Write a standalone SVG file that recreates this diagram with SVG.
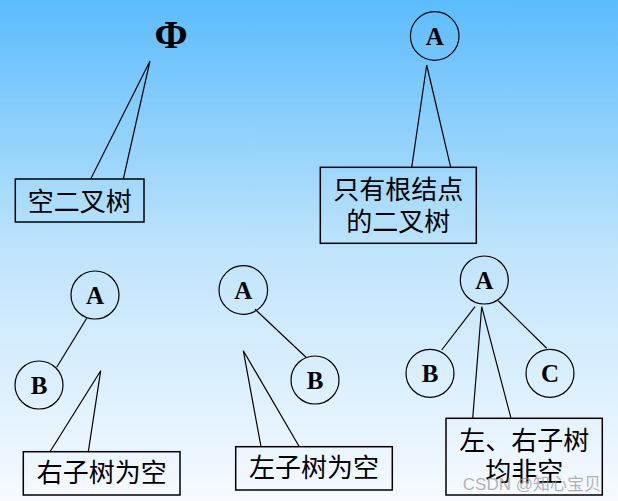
<svg xmlns="http://www.w3.org/2000/svg" width="618" height="501" viewBox="0 0 618 501">
<defs>
<linearGradient id="bg" x1="0" y1="0" x2="0" y2="1">
<stop offset="0" stop-color="#5BBCFC"/>
<stop offset="0.5" stop-color="#BFE4FC"/>
<stop offset="1" stop-color="#F6FAFF"/>
</linearGradient>
<style>
.nd{fill:none;stroke:#000;stroke-width:1.2}
.lt{font-family:"Liberation Serif",serif;font-weight:bold;font-size:25px;text-anchor:middle;fill:#000}
.cl{fill:none;stroke:#000;stroke-width:1.2;stroke-linejoin:miter}
.box{fill:none;stroke:#000;stroke-width:1.5}
.cj{font-family:"Noto Sans CJK SC","Noto Sans CJK JP",sans-serif;font-size:26px;text-anchor:middle;fill:#000}
.ed{stroke:#000;stroke-width:1.2}
</style>
</defs>
<rect width="618" height="501" fill="url(#bg)"/>

<g id="phi">
<text x="171" y="48" font-family="Liberation Serif,serif" font-weight="bold" font-size="40" text-anchor="middle">Φ</text>
</g>

<g id="connectors">
<line class="ed" x1="86.7" y1="318.3" x2="56.7" y2="367.3"/>
<line class="ed" x1="255" y1="309.3" x2="306" y2="357.3"/>
<line class="ed" x1="475" y1="306.7" x2="441.7" y2="350"/>
<line class="ed" x1="498.3" y1="300.7" x2="546.7" y2="348.3"/>
</g>

<g id="node-A1"><circle class="nd" cx="434.7" cy="36" r="24.3"/><text class="lt" x="434.7" y="45">A</text></g>
<g id="node-A2"><circle class="nd" cx="95" cy="295" r="24"/><text class="lt" x="95" y="304">A</text></g>
<g id="node-B2"><circle class="nd" cx="39" cy="385" r="24"/><text class="lt" x="39" y="394">B</text></g>
<g id="node-A3"><circle class="nd" cx="243.3" cy="290" r="24.3"/><text class="lt" x="243.3" y="299">A</text></g>
<g id="node-B3"><circle class="nd" cx="315" cy="380" r="24"/><text class="lt" x="315" y="389">B</text></g>
<g id="node-A4"><circle class="nd" cx="484.3" cy="280" r="24"/><text class="lt" x="484.3" y="289">A</text></g>
<g id="node-B4"><circle class="nd" cx="430" cy="373.3" r="24"/><text class="lt" x="430" y="382.3">B</text></g>
<g id="node-C4"><circle class="nd" cx="550" cy="373.3" r="24"/><text class="lt" x="550" y="382.3">C</text></g>

<g id="callout-empty">
<polyline class="cl" points="90.7,179 150,61 123.3,179"/>
<rect class="box" x="15.3" y="179" width="128.7" height="43"/>
<text class="cj" x="79.7" y="211">空二叉树</text>
</g>

<g id="callout-root">
<polyline class="cl" points="411.7,167.3 426.7,65 450.7,167.3"/>
<rect class="box" x="320.3" y="167.3" width="156" height="76"/>
<text class="cj" x="398.3" y="199">只有根结点</text>
<text class="cj" x="398.3" y="231">的二叉树</text>
</g>

<g id="callout-right-empty">
<polyline class="cl" points="50,451.7 100.7,370.7 88.3,451.7"/>
<rect class="box" x="23.3" y="451.7" width="156.7" height="43.3"/>
<text class="cj" x="101.7" y="482">右子树为空</text>
</g>

<g id="callout-left-empty">
<polyline class="cl" points="261,446.7 243.3,350.7 299.3,446.7"/>
<rect class="box" x="235.7" y="446.7" width="156.6" height="43.3"/>
<text class="cj" x="314" y="477">左子树为空</text>
</g>

<g id="callout-both">
<polyline class="cl" points="472.7,418.3 481.7,306.7 511,418.3"/>
<rect class="box" x="446" y="418.3" width="156.3" height="76.7"/>
<text class="cj" x="524.2" y="450">左、右子树</text>
<text class="cj" x="524.2" y="481">均非空</text>
</g>

<text x="601" y="490" font-family="Liberation Sans,sans-serif" font-size="17" text-anchor="end" fill="#9a9a9a" fill-opacity="0.75">CSDN @<tspan font-family="Noto Sans CJK SC,sans-serif">知心宝贝</tspan></text>
</svg>
